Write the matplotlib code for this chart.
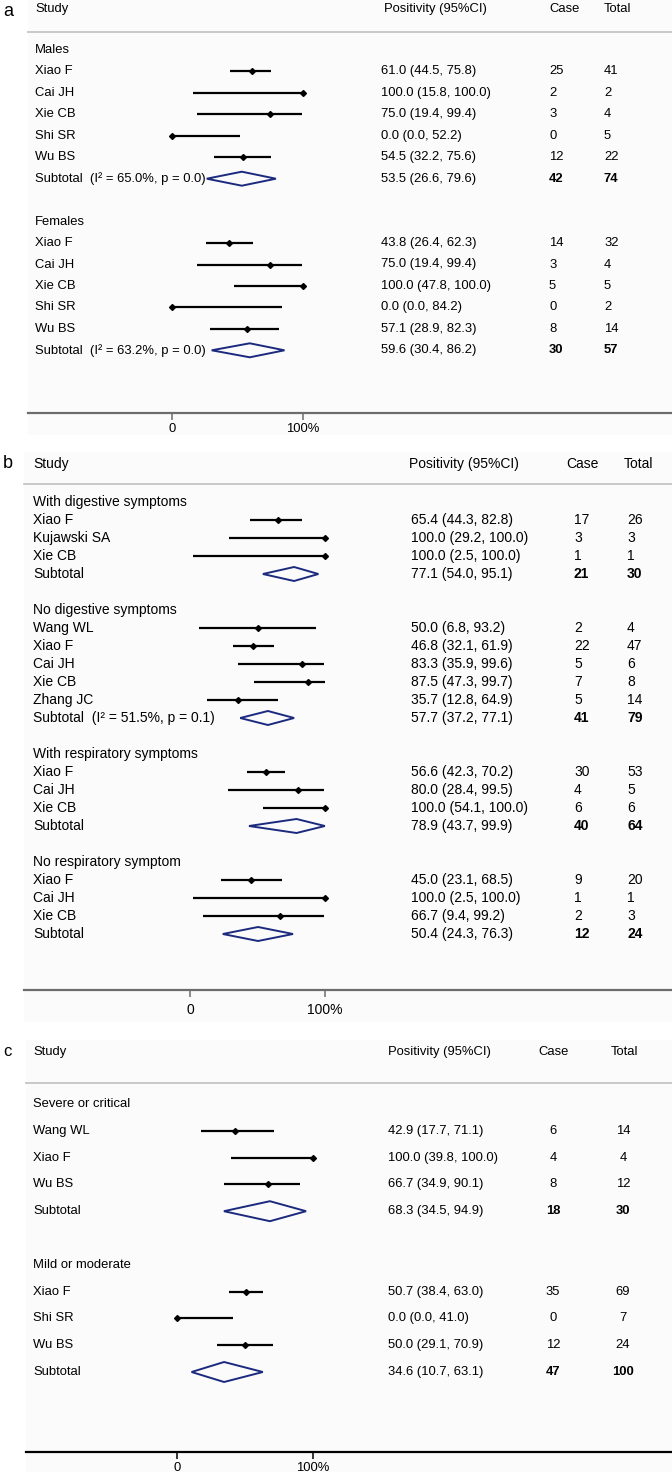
import matplotlib
matplotlib.use("Agg")
import matplotlib.pyplot as plt
from matplotlib import font_manager
from matplotlib.lines import Line2D
from matplotlib.patches import Rectangle, Polygon

# ---------------- DATA ----------------
# Panel a: by sex
a_groups = ["Males", "Females"]
a_studies = [["Xiao F", "Cai JH", "Xie CB", "Shi SR", "Wu BS"],
             ["Xiao F", "Cai JH", "Xie CB", "Shi SR", "Wu BS"]]
a_est = [[61.0, 100.0, 75.0, 0.0, 54.5], [43.8, 75.0, 100.0, 0.0, 57.1]]
a_lo = [[44.5, 15.8, 19.4, 0.0, 32.2], [26.4, 19.4, 47.8, 0.0, 28.9]]
a_hi = [[75.8, 100.0, 99.4, 52.2, 75.6], [62.3, 99.4, 100.0, 84.2, 82.3]]
a_case = [[25, 2, 3, 0, 12], [14, 3, 5, 0, 8]]
a_total = [[41, 2, 4, 5, 22], [32, 4, 5, 2, 14]]
a_sub_label = ["Subtotal  (I\u00b2 = 65.0%, p = 0.0)", "Subtotal  (I\u00b2 = 63.2%, p = 0.0)"]
a_sub_est = [53.5, 59.6]
a_sub_lo = [26.6, 30.4]
a_sub_hi = [79.6, 86.2]
a_sub_case = [42, 30]
a_sub_total = [74, 57]

# Panel b: by symptoms
b_groups = ["With digestive symptoms", "No digestive symptoms",
            "With respiratory symptoms", "No respiratory symptom"]
b_studies = [["Xiao F", "Kujawski SA", "Xie CB"],
             ["Wang WL", "Xiao F", "Cai JH", "Xie CB", "Zhang JC"],
             ["Xiao F", "Cai JH", "Xie CB"],
             ["Xiao F", "Cai JH", "Xie CB"]]
b_est = [[65.4, 100.0, 100.0], [50.0, 46.8, 83.3, 87.5, 35.7], [56.6, 80.0, 100.0], [45.0, 100.0, 66.7]]
b_lo = [[44.3, 29.2, 2.5], [6.8, 32.1, 35.9, 47.3, 12.8], [42.3, 28.4, 54.1], [23.1, 2.5, 9.4]]
b_hi = [[82.8, 100.0, 100.0], [93.2, 61.9, 99.6, 99.7, 64.9], [70.2, 99.5, 100.0], [68.5, 100.0, 99.2]]
b_case = [[17, 3, 1], [2, 22, 5, 7, 5], [30, 4, 6], [9, 1, 2]]
b_total = [[26, 3, 1], [4, 47, 6, 8, 14], [53, 5, 6], [20, 1, 3]]
b_sub_label = ["Subtotal", "Subtotal  (I\u00b2 = 51.5%, p = 0.1)", "Subtotal", "Subtotal"]
b_sub_est = [77.1, 57.7, 78.9, 50.4]
b_sub_lo = [54.0, 37.2, 43.7, 24.3]
b_sub_hi = [95.1, 77.1, 99.9, 76.3]
b_sub_case = [21, 41, 40, 12]
b_sub_total = [30, 79, 64, 24]

# Panel c: by severity
c_groups = ["Severe or critical", "Mild or moderate"]
c_studies = [["Wang WL", "Xiao F", "Wu BS"], ["Xiao F", "Shi SR", "Wu BS"]]
c_est = [[42.9, 100.0, 66.7], [50.7, 0.0, 50.0]]
c_lo = [[17.7, 39.8, 34.9], [38.4, 0.0, 29.1]]
c_hi = [[71.1, 100.0, 90.1], [63.0, 41.0, 70.9]]
c_case = [[6, 4, 8], [35, 0, 12]]
c_total = [[14, 4, 12], [69, 7, 24]]
c_sub_label = ["Subtotal", "Subtotal"]
c_sub_est = [68.3, 34.6]
c_sub_lo = [34.5, 10.7]
c_sub_hi = [94.9, 63.1]
c_sub_case = [18, 47]
c_sub_total = [30, 100]

header_cols = ["Study", "Positivity (95%CI)", "Case", "Total"]
tick_vals = [0, 100]
tick_labels = ["0", "100%"]

# ---------------- FONTS ----------------
avail = {f.name for f in font_manager.fontManager.ttflist}
NARROW = "Liberation Sans Narrow" if "Liberation Sans Narrow" in avail else "Liberation Sans"
REG = "Liberation Sans"

W, H = 672, 1472
fig = plt.figure(figsize=(W / 100, H / 100), dpi=100)
fig.patch.set_facecolor("white")

NAVY = "#1b2a7e"


def fx(px):
    return px / W


def fy(py):
    return 1 - py / H


def ftext(x, y, s, **kw):
    fig.text(fx(x), fy(y), s, va="center", **kw)


def draw_panel(L):
    # background box
    fig.patches.append(Rectangle((fx(L["bg"][0]), fy(L["bg"][3])),
                                 fx(L["bg"][2]) - fx(L["bg"][0]),
                                 fy(L["bg"][1]) - fy(L["bg"][3]),
                                 transform=fig.transFigure, facecolor="#fbfbfb",
                                 edgecolor="none", zorder=-5))
    left, top, axis_y = L["ax_left"], L["top"], L["axis_y"]
    ax = fig.add_axes([fx(left), fy(axis_y), fx(W) - fx(left), fy(top) - fy(axis_y)])
    ax.set_facecolor("none")
    scale = (L["hundred_px"] - L["zero_px"]) / 100.0
    ax.set_xlim(-(L["zero_px"] - left) / scale, (W - L["zero_px"]) / scale)
    ax.set_ylim(axis_y, top)
    for s in ["top", "left", "right"]:
        ax.spines[s].set_visible(False)
    ax.spines["bottom"].set_color(L["axis_color"])
    ax.spines["bottom"].set_linewidth(1.6)
    ax.set_yticks([])
    ax.set_xticks(tick_vals)
    ax.set_xticklabels(tick_labels, fontsize=L["fs"], family=L["font"])
    ax.tick_params(axis="x", direction="out", length=5, width=1.1,
                   color=L["axis_color"], pad=L["tick_pad"])

    fam, fs = L["font"], L["fs"]
    # panel letter
    ftext(3, L["letter_y"], L["letter"], fontsize=L["letter_fs"], family=REG)
    # header
    hx = L["header_x"]
    for i, h in enumerate(header_cols):
        ftext(hx[i], L["header_y"], h, fontsize=fs, family=fam)
    fig.add_artist(Line2D([fx(left), fx(W)], [fy(L["line_y"])] * 2,
                          transform=fig.transFigure, color="#c4c4c4", lw=1.3))

    groups, studies, est, lo, hi, case, total = L["data"]
    sub_label, s_est, s_lo, s_hi, s_case, s_total = L["sub"]
    cx = L["col_x"]
    ha_num = L["num_ha"]
    row = 0
    for g in range(len(groups)):
        y = L["row0"] + row * L["pitch"]
        ftext(cx[0], y, groups[g], fontsize=fs, family=fam)
        row += 1
        for k in range(len(studies[g])):
            y = L["row0"] + row * L["pitch"]
            ftext(cx[0], y, studies[g][k], fontsize=fs, family=fam)
            ax.plot([lo[g][k], hi[g][k]], [y, y], color="black", lw=1.6,
                    solid_capstyle="butt", clip_on=False)
            ax.plot([est[g][k]], [y], marker="D", ms=3.0, color="black",
                    clip_on=False)
            ftext(cx[1], y, f"{est[g][k]:.1f} ({lo[g][k]:.1f}, {hi[g][k]:.1f})",
                  fontsize=fs, family=fam)
            ftext(cx[2], y, str(case[g][k]), fontsize=fs, family=fam, ha=ha_num)
            ftext(cx[3], y, str(total[g][k]), fontsize=fs, family=fam, ha=ha_num)
            row += 1
        y = L["row0"] + row * L["pitch"]
        ftext(cx[0], y, sub_label[g], fontsize=fs, family=fam)
        hh = L["dia_h"] / 2
        ax.add_patch(Polygon([[s_lo[g], y], [s_est[g], y - hh], [s_hi[g], y], [s_est[g], y + hh]],
                             closed=True, facecolor="none", edgecolor=NAVY, lw=1.4,
                             clip_on=False))
        ftext(cx[1], y, f"{s_est[g]:.1f} ({s_lo[g]:.1f}, {s_hi[g]:.1f})",
              fontsize=fs, family=fam)
        ftext(cx[2], y, str(s_case[g]), fontsize=fs, family=fam, ha=ha_num, weight="bold")
        ftext(cx[3], y, str(s_total[g]), fontsize=fs, family=fam, ha=ha_num, weight="bold")
        row += 2
    return ax


panel_a = dict(letter="a", letter_fs=13, letter_y=11, bg=(28, 0, W, 435), ax_left=28, top=0, axis_y=413,
               zero_px=172, hundred_px=302.5, axis_color="#6c6c6c", tick_pad=2,
               font=NARROW, fs=9.4, header_y=9, line_y=32,
               header_x=[35, 384, 549, 604], col_x=[35, 381, 549, 604], num_ha="left",
               row0=50, pitch=21.45, dia_h=14,
               data=(a_groups, a_studies, a_est, a_lo, a_hi, a_case, a_total),
               sub=(a_sub_label, a_sub_est, a_sub_lo, a_sub_hi, a_sub_case, a_sub_total))

panel_b = dict(letter="b", letter_fs=13, letter_y=463, bg=(24, 452, W, 1022), ax_left=24, top=440, axis_y=990,
               zero_px=190, hundred_px=325, axis_color="#6c6c6c", tick_pad=4,
               font=REG, fs=10, header_y=464, line_y=484,
               header_x=[33, 409, 566, 624], col_x=[33, 411, 574, 627], num_ha="left",
               row0=502, pitch=18.0, dia_h=14,
               data=(b_groups, b_studies, b_est, b_lo, b_hi, b_case, b_total),
               sub=(b_sub_label, b_sub_est, b_sub_lo, b_sub_hi, b_sub_case, b_sub_total))

panel_c = dict(letter="c", letter_fs=12, letter_y=1052, bg=(26, 1040, W, H), ax_left=26, top=1030, axis_y=1452,
               zero_px=177, hundred_px=313, axis_color="black", tick_pad=2,
               font=NARROW, fs=9.4, header_y=1052, line_y=1083,
               header_x=[33, 388, 538, 611], col_x=[33, 388, 553, 623], num_ha="center",
               row0=1104, pitch=26.8, dia_h=20,
               data=(c_groups, c_studies, c_est, c_lo, c_hi, c_case, c_total),
               sub=(c_sub_label, c_sub_est, c_sub_lo, c_sub_hi, c_sub_case, c_sub_total))

for P in (panel_a, panel_b, panel_c):
    draw_panel(P)

fig.savefig("out.png", dpi=100, facecolor="white")
